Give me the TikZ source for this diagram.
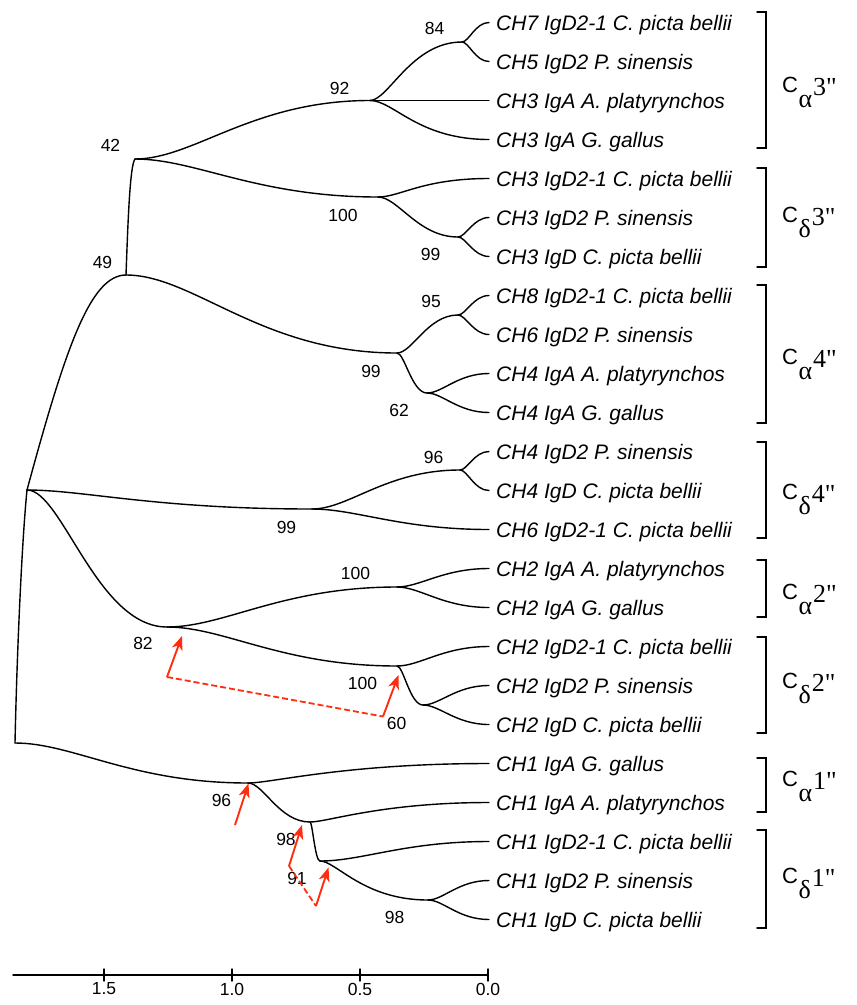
\documentclass[tikz,border=0pt]{standalone}
\usepackage{fontspec}
\setmainfont{Liberation Sans}
\newfontfamily\serfont{Liberation Serif}
\usetikzlibrary{calc,arrows.meta}
\definecolor{arr}{RGB}{255,45,15}
\newcommand\branch[4]{\draw[tree] let \p1=(#1), \p2=(#2) in (#1) .. controls ({\x1+#3*(\x2-\x1)},{\y1}) and ({\x2-#4*(\x2-\x1)},{\y2}) .. (#2);}
\newcommand\clab[4]{\node[anchor=base west, inner sep=0] (#1) at (782,#2) {\fontsize{22}{26}\selectfont\raisebox{3pt}{C}\kern0.5pt\serfont\fontsize{26}{30}\selectfont\raisebox{-12pt}{#3}\kern1pt#4"};}
\newcommand\brk[3]{\draw[tree] (757,#2) -- (766,#2) -- (766,#3) -- (757,#3); \coordinate (#1) at (766,{(#2+#3)/2});}
\begin{document}
\frenchspacing
\begin{tikzpicture}[x=1pt,y=-1pt,
  tree/.style={line width=1.4pt, black, line cap=round},
  leaf/.style={anchor=base west, inner sep=0, font=\fontsize{21}{24}\selectfont\itshape},
  bs/.style={inner sep=0, font=\fontsize{17.5}{20}\selectfont},
  redarr/.style={draw=arr, line width=1.9pt, -{Stealth[length=14pt,width=11pt,inset=4pt]}},
  reddash/.style={draw=arr, line width=1.8pt, dash pattern=on 6pt off 3pt}]
\useasboundingbox (0,0) rectangle (857,1005);

% leaves
\foreach \t [count=\i] in {CH7 IgD2-1 C. picta bellii, CH5 IgD2 P. sinensis, CH3 IgA A. platyrynchos, CH3 IgA G. gallus, CH3 IgD2-1 C. picta bellii, CH3 IgD2 P. sinensis, CH3 IgD C. picta bellii, CH8 IgD2-1 C. picta bellii, CH6 IgD2 P. sinensis, CH4 IgA A. platyrynchos, CH4 IgA G. gallus, CH4 IgD2 P. sinensis, CH4 IgD C. picta bellii, CH6 IgD2-1 C. picta bellii, CH2 IgA A. platyrynchos, CH2 IgA G. gallus, CH2 IgD2-1 C. picta bellii, CH2 IgD2 P. sinensis, CH2 IgD C. picta bellii, CH1 IgA G. gallus, CH1 IgA A. platyrynchos, CH1 IgD2-1 C. picta bellii, CH1 IgD2 P. sinensis, CH1 IgD C. picta bellii}{
  \coordinate (e\i) at (489,{22.5+(\i-1)*39});
  \node[leaf] (t\i) at (496,{30+(\i-1)*39}) {\t};
}

% internal nodes
\coordinate (A) at (462,42);
\coordinate (B) at (370,100.5);
\coordinate (C) at (135,159);
\coordinate (D) at (378,197);
\coordinate (E) at (458,237);
\coordinate (F) at (126,275);
\coordinate (G) at (397,353);
\coordinate (H) at (458,315);
\coordinate (I) at (427,393);
\coordinate (R) at (27,490);
\coordinate (J) at (312,509);
\coordinate (K) at (460,470);
\coordinate (L) at (167,627);
\coordinate (N) at (397,587);
\coordinate (O) at (397,666);
\coordinate (P) at (423,705);
\coordinate (Z) at (15,743);
\coordinate (Q) at (248,783);
\coordinate (S) at (310,822);
\coordinate (T) at (320,861);
\coordinate (U) at (428,900);

% branches
\branch{A}{e1}{.25}{.5}
\branch{A}{e2}{.25}{.5}
\branch{B}{A}{.2}{.55}
\draw[tree] (B) -- (e3);
\branch{B}{e4}{.2}{.6}
\branch{C}{B}{.25}{.5}
\branch{C}{D}{.25}{.5}
\branch{D}{e5}{.2}{.6}
\branch{D}{E}{.25}{.5}
\branch{E}{e6}{.25}{.5}
\branch{E}{e7}{.25}{.5}
\draw[tree] (F) .. controls (128,220) and (130,165) .. (C);
\branch{F}{G}{.25}{.5}
\branch{G}{H}{.25}{.5}
\branch{G}{I}{.25}{.5}
\branch{H}{e8}{.25}{.5}
\branch{H}{e9}{.25}{.5}
\branch{I}{e10}{.25}{.5}
\branch{I}{e11}{.25}{.5}
\draw[tree] (R) .. controls (65,350) and (90,275) .. (F);
\branch{R}{J}{.2}{.55}
\branch{R}{L}{.25}{.5}
\branch{J}{K}{.25}{.5}
\branch{J}{e14}{.25}{.5}
\branch{K}{e12}{.25}{.5}
\branch{K}{e13}{.25}{.5}
\branch{L}{N}{.25}{.5}
\branch{L}{O}{.25}{.5}
\branch{N}{e15}{.25}{.5}
\branch{N}{e16}{.25}{.5}
\branch{O}{e17}{.25}{.5}
\branch{O}{P}{.25}{.5}
\branch{P}{e18}{.25}{.5}
\branch{P}{e19}{.25}{.5}
\draw[tree] (Z) .. controls (17,650) and (22,540) .. (R);
\branch{Z}{Q}{.25}{.5}
\branch{Q}{e20}{.1}{.6}
\branch{Q}{S}{.25}{.5}
\branch{S}{e21}{.1}{.6}
\branch{S}{T}{.25}{.5}
\branch{T}{e22}{.25}{.5}
\branch{T}{U}{.15}{.6}
\branch{U}{e23}{.25}{.5}
\branch{U}{e24}{.25}{.5}

% bootstrap values
\node[bs] (n84) at (434.5,28.5) {84};
\node[bs] (n92) at (339.5,88) {92};
\node[bs] (n42) at (110.5,145.5) {42};
\node[bs] (n100a) at (343,215.5) {100};
\node[bs] (n99a) at (430.5,254.5) {99};
\node[bs] (n49) at (102.5,262) {49};
\node[bs] (n95) at (431,301) {95};
\node[bs] (n99b) at (371,371) {99};
\node[bs] (n62) at (399,410.5) {62};
\node[bs] (n96a) at (433.5,457) {96};
\node[bs] (n99c) at (286.5,527) {99};
\node[bs] (n100b) at (355.5,573.5) {100};
\node[bs] (n82) at (143,643.5) {82};
\node[bs] (n100c) at (362.5,683) {100};
\node[bs] (n60) at (396.5,723) {60};
\node[bs] (n96b) at (221.5,800) {96};
\node[bs] (n98a) at (286,839) {98};
\node[bs] (n91) at (297,878) {91};
\node[bs] (n98b) at (394.5,917) {98};

% red arrows
\coordinate (r1) at (167,677);
\coordinate (r1t) at (182,636);
\coordinate (r2) at (383,716.5);
\coordinate (r2t) at (398.5,675);
\coordinate (r3) at (235,825);
\coordinate (r3t) at (248.5,783.5);
\coordinate (r4) at (289,866);
\coordinate (r4t) at (302,825);
\coordinate (r5) at (316,906);
\coordinate (r5t) at (328.5,867.5);
\draw[reddash] (r1) -- (r2);
\draw[redarr] (r1) -- (r1t);
\draw[redarr] (r2) -- (r2t);
\draw[redarr] (r3) -- (r3t);
\draw[reddash] (r4) -- (r5);
\draw[redarr] (r4) -- (r4t);
\draw[redarr] (r5) -- (r5t);

% brackets and clade labels
\brk{k1}{12}{148}
\brk{k2}{168}{267}
\brk{k3}{285}{423}
\brk{k4}{442}{538}
\brk{k5}{560}{617}
\brk{k6}{637}{733}
\brk{k7}{758}{812}
\brk{k8}{830}{928}
\clab{b1}{95}{α}{3}
\clab{b2}{225}{δ}{3}
\clab{b3}{367}{α}{4}
\clab{b4}{502}{δ}{4}
\clab{b5}{602}{α}{2}
\clab{b6}{691}{δ}{2}
\clab{b7}{789}{α}{1}
\clab{b8}{886}{δ}{1}

% scale bar
\coordinate (s0) at (13,975);
\coordinate (s1) at (488,975);
\draw[tree] (s0) -- (s1);
\foreach \x/\l [count=\k] in {104/1.5, 232/1.0, 360/0.5, 488/0.0}{
  \draw[tree] (\x,969) -- (\x,981);
  \node[bs] (sl\k) at (\x,989) {\l};
}
\end{tikzpicture}
\end{document}
